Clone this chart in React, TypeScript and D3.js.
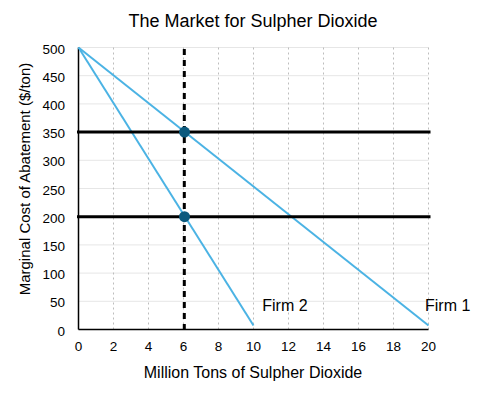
import React from "react";
import * as d3 from "d3";

const xTicks = [0, 2, 4, 6, 8, 10, 12, 14, 16, 18, 20];
const yTicks = [0, 50, 100, 150, 200, 250, 300, 350, 400, 450, 500];
const firm1 = [
  { x: 0, y: 500 },
  { x: 20, y: 7 },
];
const firm2 = [
  { x: 0, y: 500 },
  { x: 10, y: 7 },
];
const priceLines = [350, 200];
const quotaX = 6;
const points = [
  { x: 6, y: 350 },
  { x: 6, y: 200 },
];
const labels = [
  { text: "Firm 2", x: 10.5, y: 35 },
  { text: "Firm 1", x: 19.8, y: 35 },
];

export default function App() {
  const W = 501,
    H = 397;
  const left = 78.5,
    right = 428.5,
    top = 47.5,
    bottom = 329.5;
  const x = d3.scaleLinear().domain([0, 20]).range([left, right]);
  const y = d3.scaleLinear().domain([0, 500]).range([bottom, top]);
  const line = d3
    .line<{ x: number; y: number }>()
    .x((d) => x(d.x))
    .y((d) => y(d.y));
  const font = "Liberation Sans, Arial, Helvetica, sans-serif";
  return (
    <svg
      width={W}
      height={H}
      style={{ position: "absolute", left: 0, top: 0 }}
      fontFamily={font}
    >
      <rect width={W} height={H} fill="#fff" />
      <text x={253} y={27} textAnchor="middle" fontSize={18} fill="#000">
        The Market for Sulpher Dioxide
      </text>
      {yTicks.map((t) => (
        <line
          key={"hy" + t}
          x1={left}
          x2={right}
          y1={y(t)}
          y2={y(t)}
          stroke="#e6e6e6"
          strokeWidth={1}
        />
      ))}
      {xTicks.slice(1).map((t) => (
        <line
          key={"vx" + t}
          x1={x(t)}
          x2={x(t)}
          y1={top}
          y2={bottom}
          stroke="#bdbdbd"
          strokeWidth={1}
          strokeDasharray="2,3"
        />
      ))}
      {yTicks.map((t) => (
        <text
          key={"yl" + t}
          x={65}
          y={y(t) + 6}
          textAnchor="end"
          fontSize={13.5}
          fill="#000"
        >
          {t}
        </text>
      ))}
      {xTicks.map((t) => (
        <text
          key={"xl" + t}
          x={x(t)}
          y={350.5}
          textAnchor="middle"
          fontSize={13.5}
          fill="#000"
        >
          {t}
        </text>
      ))}
      <text x={253} y={378} textAnchor="middle" fontSize={16} fill="#000">
        Million Tons of Sulpher Dioxide
      </text>
      <text
        transform={`translate(30,179) rotate(-90)`}
        textAnchor="middle"
        fontSize={15}
        fill="#000"
      >
        Marginal Cost of Abatement ($/ton)
      </text>
      <line x1={left} x2={left} y1={top} y2={bottom} stroke="#000" strokeWidth={1.5} />
      <line x1={left} x2={right} y1={bottom} y2={bottom} stroke="#000" strokeWidth={1.5} />
      <path d={line(firm1) || ""} fill="none" stroke="#4bb3e4" strokeWidth={2} />
      <path d={line(firm2) || ""} fill="none" stroke="#4bb3e4" strokeWidth={2} />
      {priceLines.map((p) => (
        <line
          key={"p" + p}
          x1={left - 1.5}
          x2={right + 2}
          y1={y(p)}
          y2={y(p)}
          stroke="#000"
          strokeWidth={3}
        />
      ))}
      <line
        x1={x(quotaX) + 0.8}
        x2={x(quotaX) + 0.8}
        y1={top + 1.5}
        y2={bottom}
        stroke="#000"
        strokeWidth={3}
        strokeDasharray="6,5"
      />
      {points.map((d, i) => (
        <circle key={i} cx={x(d.x) + 1} cy={y(d.y)} r={5.5} fill="#0c5a7e" />
      ))}
      {labels.map((l) => (
        <text key={l.text} x={x(l.x)} y={y(l.y) + 1} fontSize={16} fill="#000">
          {l.text}
        </text>
      ))}
    </svg>
  );
}
